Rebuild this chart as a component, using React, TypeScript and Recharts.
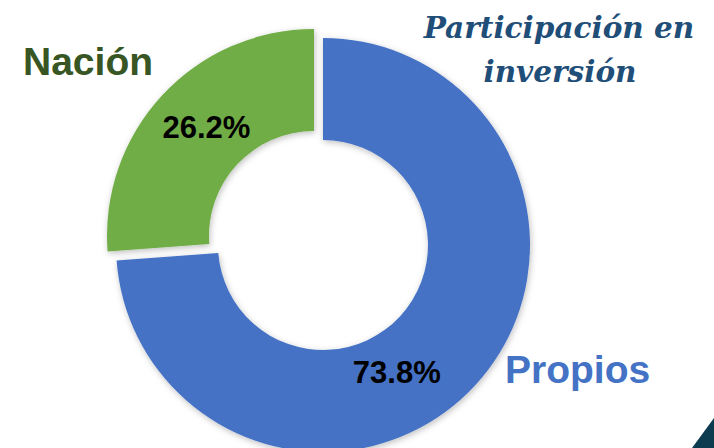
import { Cell, Pie, PieChart } from "recharts";

const categories = ["Propios", "Nación"];
const shares = [73.8, 26.2];
const labels = ["73.8%", "26.2%"];
const titleLines = ["Participación en", "inversión"];

const BLUE = "#4472C4";
const GREEN = "#70AD47";

const data = categories.map((name, i) => ({ name, value: shares[i], label: labels[i] }));

// Excel put the big label off the slice midpoint
const labelAngleShift = [-17, -2.5];
const labelRadius = [147, 153];

const RAD = Math.PI / 180;

function renderLabel(showIndex: number) {
  return (props: any) => {
    const { cx, cy, midAngle, index } = props;
    if (index !== showIndex) return null;
    const a = (midAngle + labelAngleShift[index]) * RAD;
    const r = labelRadius[index];
    const x = cx + r * Math.cos(a);
    const y = cy - r * Math.sin(a);
    return (
      <text
        x={x}
        y={y}
        textAnchor="middle"
        dominantBaseline="central"
        fontFamily="'Liberation Sans', Arial, sans-serif"
        fontWeight={700}
        fontSize={31}
        textLength={88}
        lengthAdjust="spacingAndGlyphs"
        fill="#000"
      >
        {data[index].label}
      </text>
    );
  };
}

const titleStyle = {
  fontFamily: "'DejaVu Serif', 'Liberation Serif', serif",
  fontStyle: "italic",
  fontWeight: 700,
  fontSize: 29.5,
  fill: "#1F4E79",
} as const;

export default function App() {
  return (
    <div style={{ position: "absolute", left: 0, top: 0, width: 714, height: 448, background: "#fff", overflow: "hidden" }}>
      <PieChart width={714} height={448} margin={{ top: 0, right: 0, bottom: 0, left: 0 }}>
        <defs>
          <filter id="shadow" x="-20%" y="-20%" width="140%" height="140%">
            <feDropShadow dx="1" dy="2" stdDeviation="3" floodColor="#000" floodOpacity="0.25" />
          </filter>
        </defs>
        {/* main ring: only Propios visible */}
        <Pie
          data={data}
          dataKey="value"
          cx={323}
          cy={245}
          innerRadius={105}
          outerRadius={207}
          startAngle={90}
          endAngle={-270}
          stroke="none"
          isAnimationActive={false}
          labelLine={false}
          label={renderLabel(0)}
        >
          {data.map((d, i) => (
            <Cell key={d.name} fill={i === 0 ? BLUE : "transparent"} filter={i === 0 ? "url(#shadow)" : undefined} />
          ))}
        </Pie>
        {/* exploded Nación slice */}
        <Pie
          data={data}
          dataKey="value"
          cx={314}
          cy={236}
          innerRadius={105}
          outerRadius={207}
          startAngle={90}
          endAngle={-270}
          stroke="none"
          isAnimationActive={false}
          labelLine={false}
          label={renderLabel(1)}
        >
          {data.map((d, i) => (
            <Cell key={d.name} fill={i === 1 ? GREEN : "transparent"} filter={i === 1 ? "url(#shadow)" : undefined} />
          ))}
        </Pie>
        <text x={23} y={75} fontFamily="'Liberation Sans', Arial, sans-serif" fontWeight={700} fontSize={39} fill="#375623">
          Nación
        </text>
        <text x={505} y={383} fontFamily="'Liberation Sans', Arial, sans-serif" fontWeight={700} fontSize={39} fill={BLUE}>
          Propios
        </text>
        <text x={559} y={38} textAnchor="middle" {...titleStyle}>
          {titleLines[0]}
        </text>
        <text x={560} y={82} textAnchor="middle" {...titleStyle}>
          {titleLines[1]}
        </text>
        <polygon points="692,448 714,418 714,448" fill="#0D3B4F" />
      </PieChart>
    </div>
  );
}
